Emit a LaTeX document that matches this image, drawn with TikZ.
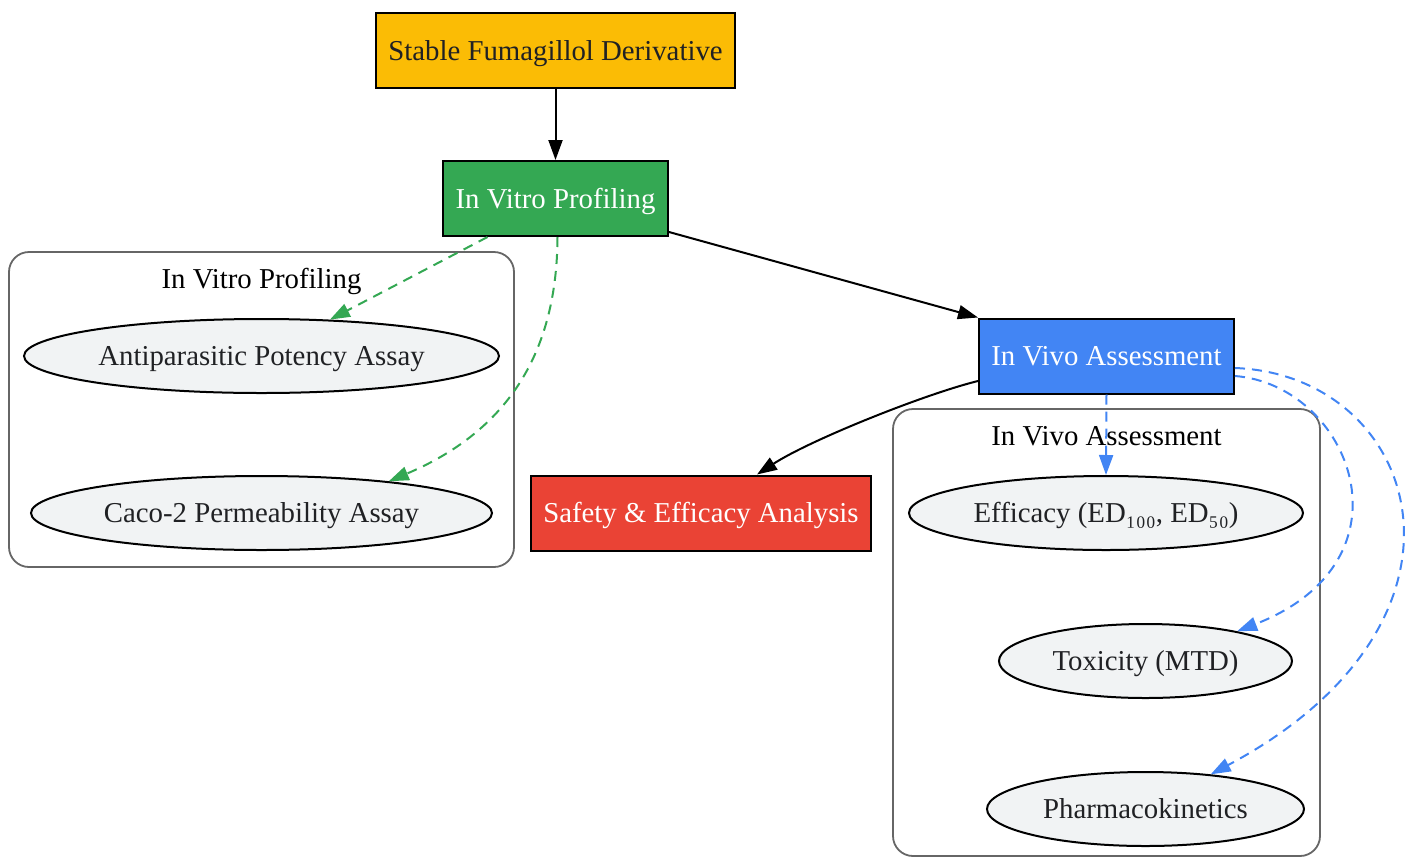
\documentclass[tikz,border=0pt]{standalone}
\usepackage{fontspec}
\setmainfont{Liberation Serif}
\usetikzlibrary{arrows.meta,shapes.geometric,positioning}
\definecolor{gyellow}{HTML}{FBBC05}
\definecolor{ggreen}{HTML}{34A853}
\definecolor{gblue}{HTML}{4285F4}
\definecolor{gred}{HTML}{EA4335}
\definecolor{lgray}{HTML}{F1F3F4}
\definecolor{dgray}{HTML}{202124}
\definecolor{cgray}{HTML}{666666}
\tikzset{
    >={Triangle[length=10pt,width=7pt]}, % Default arrow tip
    every node/.style={text height=9.8pt, text depth=0pt},
    box/.style={draw=black, line width=1pt, minimum height=37.5pt, inner sep=0pt},
    assay/.style={ellipse, draw=black, line width=1pt, fill=lgray, text=dgray,
        minimum height=37pt, inner sep=0pt},
    cluster/.style={draw=cgray, line width=0.9pt, rounded corners=10pt},
    link/.style={->, line width=1pt},
    sublink/.style={->, line width=1pt, dash pattern=on 5pt off 3.5pt}
}
\def\fs{\fontsize{14.4}{17}\selectfont}

\begin{document}
\begin{tikzpicture}[x=0.5pt, y=-0.5pt, font=\fs]
    \useasboundingbox (0,0) rectangle (1415,858);
    % clusters
    \draw
        [cluster]
        (9,252) rectangle (514,567)
        (893,409) rectangle (1320,856)
    ;
    \draw
        node (vitrolabel) at (261.5,279) {In Vitro Profiling}
        node (vivolabel) at (1106.5,436) {In Vivo Assessment}
    ;
    % main steps
    \draw
        node [box, fill=gyellow, text=dgray, minimum width=179.5pt] (stable) at (555.5,50.5) {Stable Fumagillol Derivative}
        node [box, fill=ggreen, text=white, minimum width=112.5pt] (vitro) at (555.5,198.5) {In Vitro Profiling}
        node [box, fill=gblue, text=white, minimum width=127.5pt] (vivo) at (1106.5,356) {In Vivo Assessment}
        node [box, fill=gred, text=white, minimum width=170pt] (safety) at (701,513) {Safety \& Efficacy Analysis}
    ;
    % assays
    \draw
        node [assay, minimum width=237.5pt] (anti) at (261.5,356) {Antiparasitic Potency Assay}
        node [assay, minimum width=230.5pt] (caco) at (261.5,513) {Caco-2 Permeability Assay}
        node [assay, minimum width=197pt] (eff) at (1106,513) {Efficacy (ED₁₀₀, ED₅₀)}
        node [assay, minimum width=146.5pt] (tox) at (1145.5,661) {Toxicity (MTD)}
        node [assay, minimum width=158.5pt] (pk) at (1145.5,809) {Pharmacokinetics}
    ;
    \draw
        [link]
        (stable) -- (vitro)
    ;
    \draw
        [link]
        ([yshift=-16.75pt]vitro.east) -- (vivo.north west)
    ;
    \draw
        [link]
        ([yshift=-12.5pt]vivo.west) .. controls (925,394) and (810,440) .. ([xshift=28pt]safety.north)
    ;
    \draw
        [sublink, ggreen]
        ([xshift=-34pt]vitro.south) -- (anti.28)
    ;
    \draw
        [sublink, ggreen]
        ([xshift=1pt]vitro.south) .. controls (557,350) and (510,430) .. (caco.14)
    ;
    \draw
        [sublink, gblue]
        (vivo.south) -- (eff.north)
    ;
    \draw
        [sublink, gblue]
        ([yshift=-10pt]vivo.east) .. controls (1350,385) and (1420,560) .. (tox.18)
    ;
    \draw
        [sublink, gblue]
        ([yshift=-6pt]vivo.east) .. controls (1420,375) and (1500,620) .. (pk.28)
    ;
\end{tikzpicture}
\end{document}
